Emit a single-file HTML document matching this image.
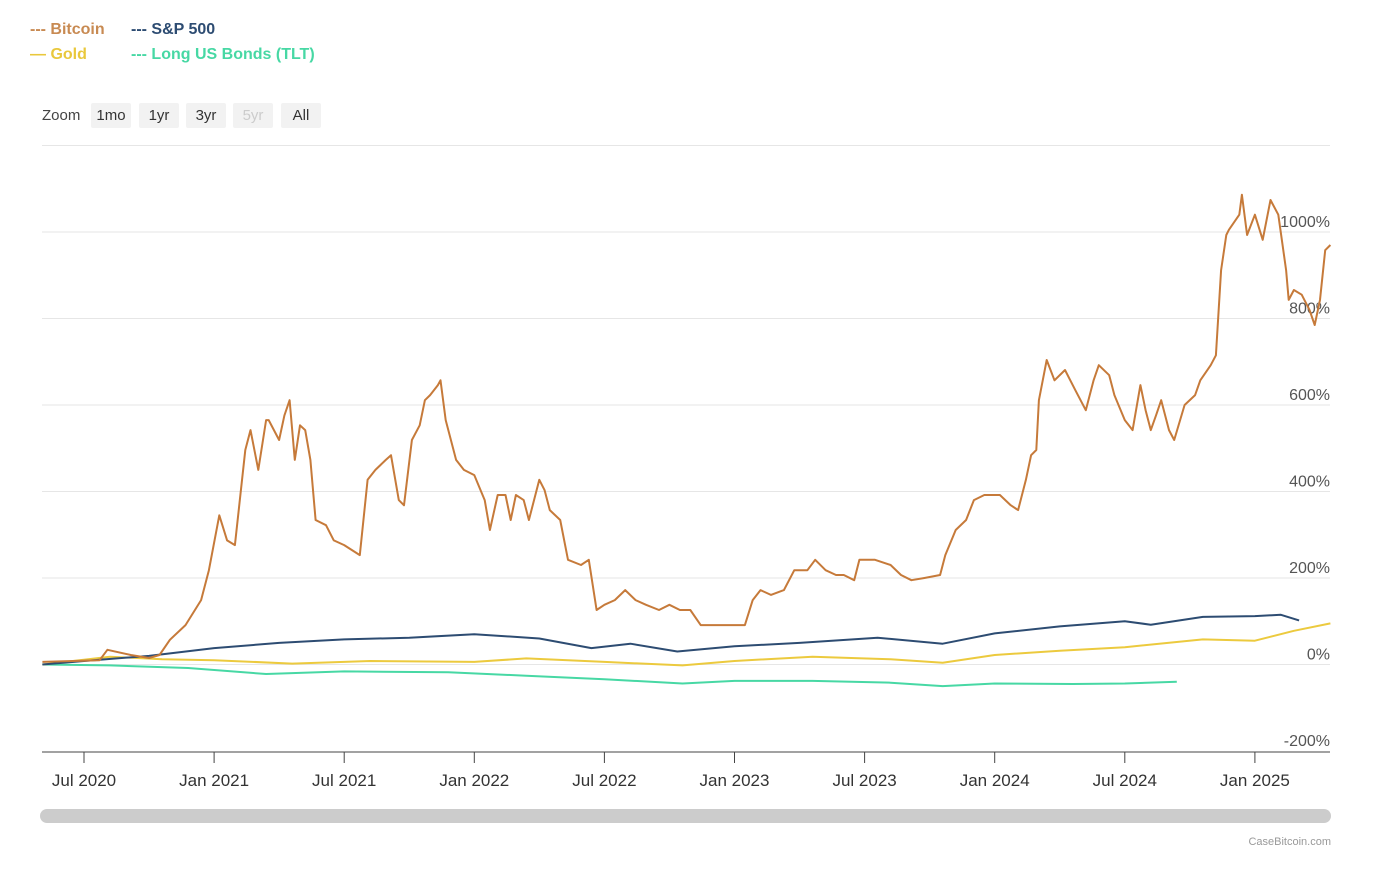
<!DOCTYPE html>
<html><head><meta charset="utf-8"><style>
body{margin:0;background:#fff;font-family:"Liberation Sans",sans-serif;}
#wrap{position:relative;width:1382px;height:877px;overflow:hidden;background:#fff;}
.leg{position:absolute;font-size:16px;font-weight:bold;}
.btn{position:absolute;top:103px;height:25px;line-height:25px;background:#f2f2f2;border-radius:2px;text-align:center;font-size:15px;color:#333;width:40px;}
</style></head><body>
<div id="wrap">
<div class="leg" style="left:30px;top:21px;color:#c88a52">--- Bitcoin</div>
<div class="leg" style="left:131px;top:21px;color:#2d4c72">--- S&amp;P 500</div>
<div class="leg" style="left:30px;top:46px;color:#e9c83c">— Gold</div>
<div class="leg" style="left:131px;top:46px;color:#47d8a4">--- Long US Bonds (TLT)</div>
<div style="position:absolute;left:42px;top:103px;line-height:25px;font-size:15px;color:#444">Zoom</div>
<div class="btn" style="left:91px">1mo</div>
<div class="btn" style="left:139px">1yr</div>
<div class="btn" style="left:186px">3yr</div>
<div class="btn" style="left:233px;color:#ccc">5yr</div>
<div class="btn" style="left:281px">All</div>
<svg id="chart" width="1382" height="877" style="position:absolute;left:0;top:0"></svg>
<div style="position:absolute;left:40px;top:809px;width:1291px;height:14px;border-radius:7px;background:#cccccc"></div>
<div style="position:absolute;right:51px;top:836px;font-size:11px;color:#999">CaseBitcoin.com</div>
</div>
<script>
const yTicks=[-200,0,200,400,600,800,1000,1200];
const xTickDates=[2020.5,2021,2021.5,2022,2022.5,2023,2023.5,2024,2024.5,2025];
const xTickLabels=["Jul 2020","Jan 2021","Jul 2021","Jan 2022","Jul 2022","Jan 2023","Jul 2023","Jan 2024","Jul 2024","Jan 2025"];
const btcDates=[2020.34,2020.56,2020.59,2020.68,2020.75,2020.79,2020.83,2020.89,2020.95,2020.98,2021.02,2021.05,2021.08,2021.12,2021.14,2021.17,2021.20,2021.21,2021.25,2021.27,2021.29,2021.31,2021.33,2021.35,2021.37,2021.39,2021.43,2021.46,2021.50,2021.56,2021.59,2021.62,2021.66,2021.68,2021.71,2021.73,2021.76,2021.79,2021.81,2021.83,2021.86,2021.87,2021.89,2021.93,2021.96,2022.00,2022.04,2022.06,2022.09,2022.12,2022.14,2022.16,2022.19,2022.21,2022.25,2022.27,2022.29,2022.33,2022.36,2022.41,2022.44,2022.47,2022.50,2022.54,2022.58,2022.62,2022.66,2022.71,2022.75,2022.79,2022.83,2022.87,2022.93,2022.98,2023.04,2023.07,2023.10,2023.14,2023.19,2023.23,2023.28,2023.31,2023.35,2023.39,2023.42,2023.46,2023.48,2023.54,2023.60,2023.64,2023.68,2023.73,2023.79,2023.81,2023.85,2023.89,2023.92,2023.96,2024.02,2024.06,2024.09,2024.12,2024.14,2024.16,2024.17,2024.20,2024.23,2024.27,2024.31,2024.35,2024.38,2024.40,2024.44,2024.46,2024.50,2024.53,2024.56,2024.58,2024.60,2024.62,2024.64,2024.67,2024.69,2024.73,2024.77,2024.79,2024.83,2024.85,2024.87,2024.89,2024.90,2024.94,2024.95,2024.97,2025.00,2025.03,2025.06,2025.09,2025.12,2025.13,2025.15,2025.18,2025.21,2025.23,2025.25,2025.27,2025.29];
const btcValues=[6,10,34,22,15,22,57,91,149,218,345,287,276,496,542,450,565,565,519,576,611,473,553,542,473,334,322,287,276,253,427,450,473,484,380,368,519,553,611,623,646,657,565,473,450,438,380,311,392,392,334,392,380,334,427,403,357,334,242,230,242,126,138,149,172,149,138,126,138,126,126,91,91,91,91,149,172,161,172,218,218,242,218,207,207,195,242,242,230,207,195,200,207,253,311,334,380,392,392,369,357,427,484,496,611,704,657,681,634,588,657,692,669,623,565,542,646,588,542,576,611,542,519,600,623,657,692,715,912,993,1005,1040,1086,993,1040,982,1074,1040,912,843,866,855,820,785,843,958,970];
const spDates=[2020.34,2020.5,2020.75,2021.0,2021.25,2021.5,2021.75,2022.0,2022.25,2022.45,2022.6,2022.78,2023.0,2023.25,2023.55,2023.8,2024.0,2024.25,2024.5,2024.6,2024.8,2025.0,2025.1,2025.17];
const spValues=[0,8,20,38,50,58,62,70,60,38,48,30,42,50,62,48,72,88,100,92,110,112,115,102];
const goldDates=[2020.34,2020.6,2020.8,2021.0,2021.3,2021.6,2022.0,2022.2,2022.5,2022.8,2023.0,2023.3,2023.6,2023.8,2024.0,2024.25,2024.5,2024.8,2025.0,2025.15,2025.29];
const goldValues=[0,18,12,10,2,8,6,14,6,-2,8,18,12,4,22,32,40,58,55,78,95];
const tltDates=[2020.34,2020.6,2020.9,2021.2,2021.5,2021.9,2022.2,2022.5,2022.8,2023.0,2023.3,2023.6,2023.8,2024.0,2024.3,2024.5,2024.7];
const tltValues=[0,-2,-8,-22,-16,-18,-26,-34,-44,-38,-38,-42,-50,-44,-45,-44,-40];
const NS='http://www.w3.org/2000/svg';
const svg=document.getElementById('chart');
const x0=42,x1=1330;
function xs(d){return 84+(d-2020.5)*260.2;}
function ys(v){return 664.5-v*86.5/200;}
function mk(t,a){const e=document.createElementNS(NS,t);for(const k in a)e.setAttribute(k,a[k]);svg.appendChild(e);return e;}
yTicks.forEach(v=>{
  if(v>-200){const g=mk('line',{x1:x0,x2:x1,y1:ys(v),y2:ys(v),stroke:'#e6e6e6','stroke-width':1});
  
  }
  if(v<1200){const t=mk('text',{x:1330,y:ys(v)-5,'text-anchor':'end','font-size':16,fill:'#555','font-family':'Liberation Sans, sans-serif'});
  t.textContent=v+'%';
  
  }
});
const ax=mk('line',{x1:x0,x2:x1,y1:752,y2:752,stroke:'#444','stroke-width':1});


xTickDates.forEach((d,i)=>{
  const tk=mk('line',{x1:xs(d),x2:xs(d),y1:752,y2:763,stroke:'#444'});
  
  
  const t=mk('text',{x:xs(d),y:786,'text-anchor':'middle','font-size':17,fill:'#333','font-family':'Liberation Sans, sans-serif'});
  t.textContent=xTickLabels[i];
  
  
});
function line(ds,vs,color,name){
  const p=ds.map((d,i)=>(i?'L':'M')+xs(d).toFixed(1)+','+ys(vs[i]).toFixed(1)).join('');
  const e=mk('path',{d:p,fill:'none',stroke:color,'stroke-width':2,'stroke-linejoin':'round'});
  
  
}
line(tltDates,tltValues,'#47d8a4','tlt-line');
line(goldDates,goldValues,'#ecca3e','gold-line');
line(spDates,spValues,'#2d4c72','sp500-line');
line(btcDates,btcValues,'#c67a3a','bitcoin-line');
</script>
</body></html>
